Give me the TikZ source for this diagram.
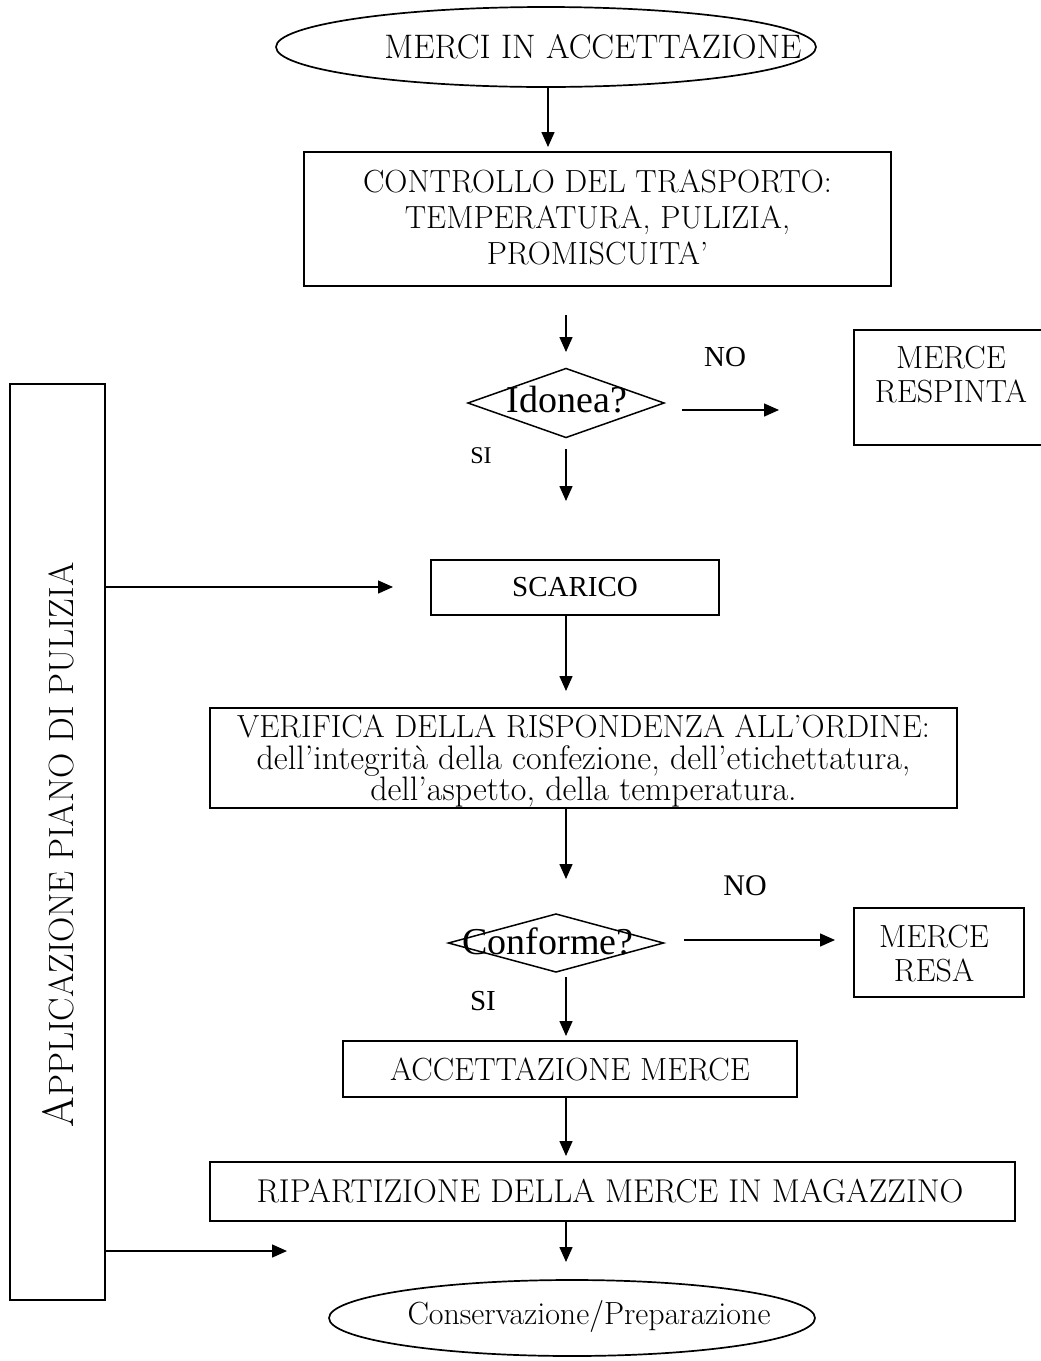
\documentclass[tikz,border=0pt]{standalone}
\usepackage{fontspec}
\newfontfamily\timesf{Liberation Serif}
\usetikzlibrary{arrows.meta,shapes.geometric}
\newcommand\fsz[2]{\fontsize{#1}{#2}\selectfont}
\begin{document}
\begin{tikzpicture}[x=1pt,y=-1pt,
  every node/.style={inner sep=0pt,outer sep=0pt},
  frame/.style={draw,line width=1.8pt},
  oval/.style={ellipse,draw,line width=1.7pt},
  rhomb/.style={diamond,draw,line width=1.5pt,aspect=2.6},
  txt/.style={font=\fsz{32}{34},align=center},
  tms/.style={font=\timesf\fsz{29}{32}},
  flow/.style={line width=1.5pt,-{Triangle[length=15pt,width=13pt]}}]
\useasboundingbox (0,0) rectangle (1041,1361);

% start
\node[oval,minimum width=540,minimum height=80] (start) at (546,47) {};
\node[txt,font=\fsz{34}{36}] (startt) at (593,47) {MERCI IN ACCETTAZIONE};

% transport check
\node[frame,minimum width=587,minimum height=134] (check) at (597.5,219) {};
\node[txt,font=\fsz{32}{36}] (checkt) at (597.5,217)
  {CONTROLLO DEL TRASPORTO:\\TEMPERATURA, PULIZIA,\\PROMISCUITA’};

% suitability decision
\node[rhomb,minimum width=196,minimum height=69] (ok1) at (566,403) {};
\node[font=\timesf\fsz{38}{40}] (ok1t) at (567,400) {Idonea?};
\node[tms] (no1) at (725,357) {NO};
\node[tms,font=\timesf\fsz{24}{26}] (si1) at (481,456) {SI};
\node[frame,minimum width=194,minimum height=115] (rej) at (951,387.5) {};
\node[txt] (rejt) at (951,375) {MERCE\\RESPINTA};

% cleaning plan
\node[frame,minimum width=95,minimum height=916] (plan) at (57.5,842) {};
\node[rotate=90] (plant) at (58,845)
  {\fsz{44}{46}A\fsz{35}{37}PPLICAZIONE PIANO DI PULIZIA};

% unloading
\node[frame,minimum width=288,minimum height=55] (unload) at (575,587.5) {};
\node[tms] (unloadt) at (575,587.5) {SCARICO};

% order check
\node[frame,minimum width=747,minimum height=100] (verify) at (583.5,758) {};
\node[anchor=base,font=\fsz{32}{34}] (verify1) at (583.5,737)
  {VERIFICA DELLA RISPONDENZA ALL’ORDINE:};
\node[anchor=base,font=\fsz{34}{36}] (verify2) at (583.5,769)
  {dell’integrità della confezione, dell’etichettatura,};
\node[anchor=base,font=\fsz{34}{36}] (verify3) at (583.5,800)
  {dell’aspetto, della temperatura.};

% conformity decision
\node[rhomb,minimum width=215,minimum height=58] (ok2) at (556,943) {};
\node[font=\timesf\fsz{38}{40}] (ok2t) at (548,941) {Conforme?};
\node[tms,font=\timesf\fsz{30}{32}] (no2) at (745,886) {NO};
\node[tms] (si2) at (483,1001) {SI};
\node[frame,minimum width=170,minimum height=89] (back) at (939,952.5) {};
\node[txt] (backt) at (934,954) {MERCE\\RESA};

% acceptance and storage
\node[frame,minimum width=454,minimum height=56] (accept) at (570,1069) {};
\node[txt] (acceptt) at (570,1069) {ACCETTAZIONE MERCE};
\node[frame,minimum width=805,minimum height=59] (store) at (612.5,1191.5) {};
\node[txt,font=\fsz{33}{35}] (storet) at (610,1191.5) {RIPARTIZIONE DELLA MERCE IN MAGAZZINO};

% end
\node[oval,minimum width=486,minimum height=76] (finish) at (572,1318) {};
\node[txt] (finisht) at (589,1316) {Conservazione/Preparazione};

% arrow end points
\coordinate (p1a) at (548,88);   \coordinate (p1b) at (548,147);
\coordinate (p2a) at (566,315);  \coordinate (p2b) at (566,352);
\coordinate (p3a) at (566,449);  \coordinate (p3b) at (566,501);
\coordinate (p4a) at (566,615);  \coordinate (p4b) at (566,691);
\coordinate (p5a) at (566,808);  \coordinate (p5b) at (566,879);
\coordinate (p6a) at (566,977);  \coordinate (p6b) at (566,1036);
\coordinate (p7a) at (566,1097); \coordinate (p7b) at (566,1156);
\coordinate (p8a) at (566,1222); \coordinate (p8b) at (566,1262);
\coordinate (n1a) at (682,410);  \coordinate (n1b) at (779,410);
\coordinate (n2a) at (684,940);  \coordinate (n2b) at (835,940);
\coordinate (l1b) at (393,587);  \coordinate (l2b) at (287,1251);

\draw[flow] (p1a) -- (p1b);
\draw[flow] (p2a) -- (p2b);
\draw[flow] (p3a) -- (p3b);
\draw[flow] (p4a) -- (p4b);
\draw[flow] (p5a) -- (p5b);
\draw[flow] (p6a) -- (p6b);
\draw[flow] (p7a) -- (p7b);
\draw[flow] (p8a) -- (p8b);
\draw[flow] (n1a) -- (n1b);
\draw[flow] (n2a) -- (n2b);
\draw[flow] (plan.east |- l1b) -- (l1b);
\draw[flow] (plan.east |- l2b) -- (l2b);
\end{tikzpicture}
\end{document}
